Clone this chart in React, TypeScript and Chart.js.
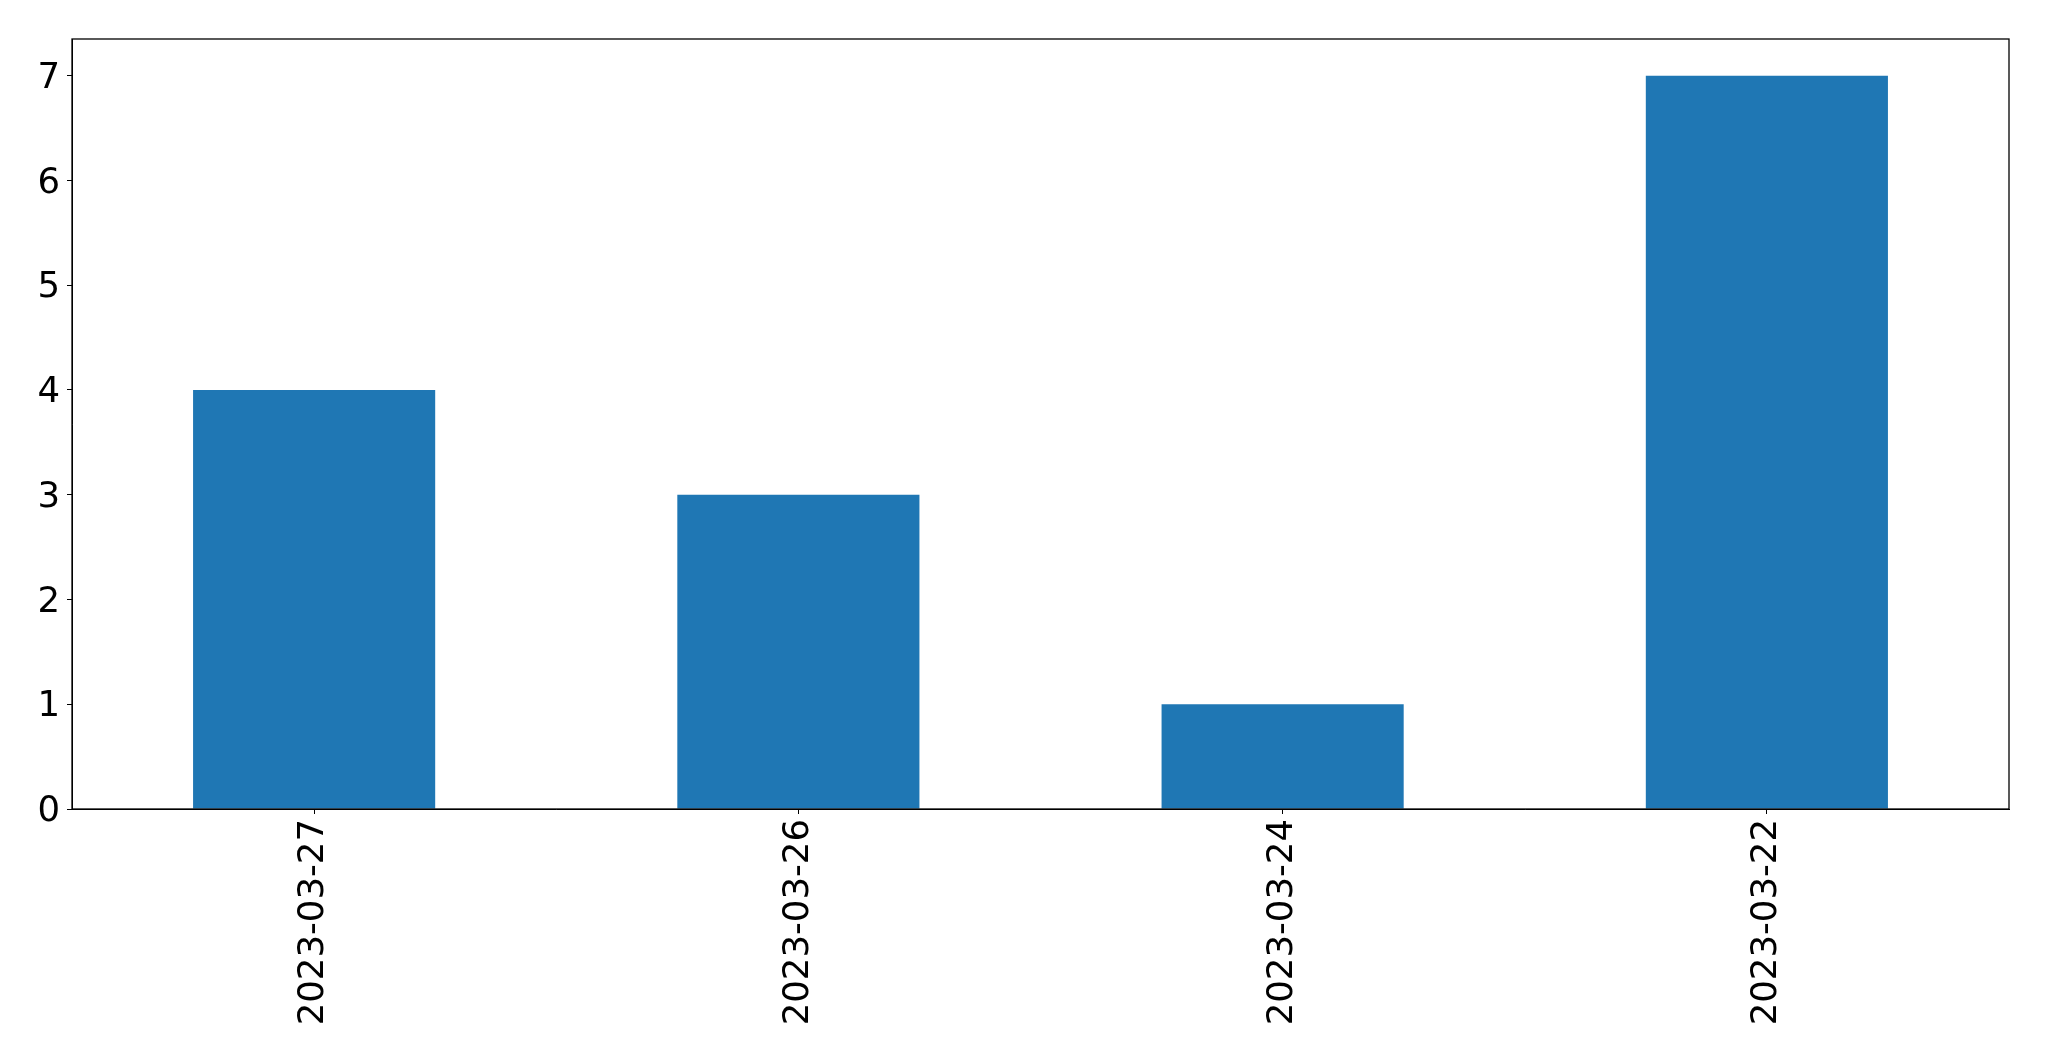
import React, { useEffect, useRef } from "react";
import { Chart, registerables } from "chart.js";

Chart.register(...registerables);

const categories = ["2023-03-27", "2023-03-26", "2023-03-24", "2023-03-22"];
const values = [4, 3, 1, 7];
const yTicks = [0, 1, 2, 3, 4, 5, 6, 7];
const yMax = 7.35;

const FONT = "'DejaVu Sans', sans-serif";

const frame = {
  id: "frame",
  afterDraw(chart: any) {
    const { ctx, chartArea } = chart;
    ctx.save();
    ctx.strokeStyle = "#000";
    ctx.lineWidth = 1.3;
    ctx.strokeRect(chartArea.left, chartArea.top, chartArea.right - chartArea.left, chartArea.bottom - chartArea.top);
    ctx.restore();
  },
};

export default function App() {
  const ref = useRef<HTMLCanvasElement>(null);
  useEffect(() => {
    document.body.style.margin = "0";
    const chart = new Chart(ref.current!, {
      type: "bar",
      data: {
        labels: categories,
        datasets: [
          {
            data: values,
            backgroundColor: "#1f77b4",
            categoryPercentage: 1,
            barPercentage: 0.5,
          },
        ],
      },
      plugins: [frame],
      options: {
        responsive: false,
        animation: false,
        layout: { padding: { top: 39, right: 40, left: 0, bottom: 0 } },
        plugins: { legend: { display: false }, tooltip: { enabled: false } },
        scales: {
          x: {
            offset: true,
            grid: { drawOnChartArea: false, offset: false, tickLength: 5, color: "#000" },
            border: { display: true, color: "#000" },
            ticks: {
              minRotation: 90,
              maxRotation: 90,
              padding: 5,
              color: "#000",
              font: { family: FONT, size: 35.5 },
            },
            afterFit(scale: any) {
              scale.height = 252;
            },
          },
          y: {
            min: 0,
            max: yMax,
            grid: { drawOnChartArea: false, tickLength: 5, color: "#000" },
            border: { display: true, color: "#000" },
            ticks: {
              padding: 7,
              labelOffset: 3,
              color: "#000",
              font: { family: FONT, size: 35.5 },
            },
            afterBuildTicks(scale: any) {
              scale.ticks = yTicks.map((v) => ({ value: v }));
            },
            afterFit(scale: any) {
              scale.width = 72;
            },
          },
        },
      },
    });
    return () => chart.destroy();
  }, []);
  return <canvas ref={ref} width={2049} height={1061} style={{ display: "block" }} />;
}
